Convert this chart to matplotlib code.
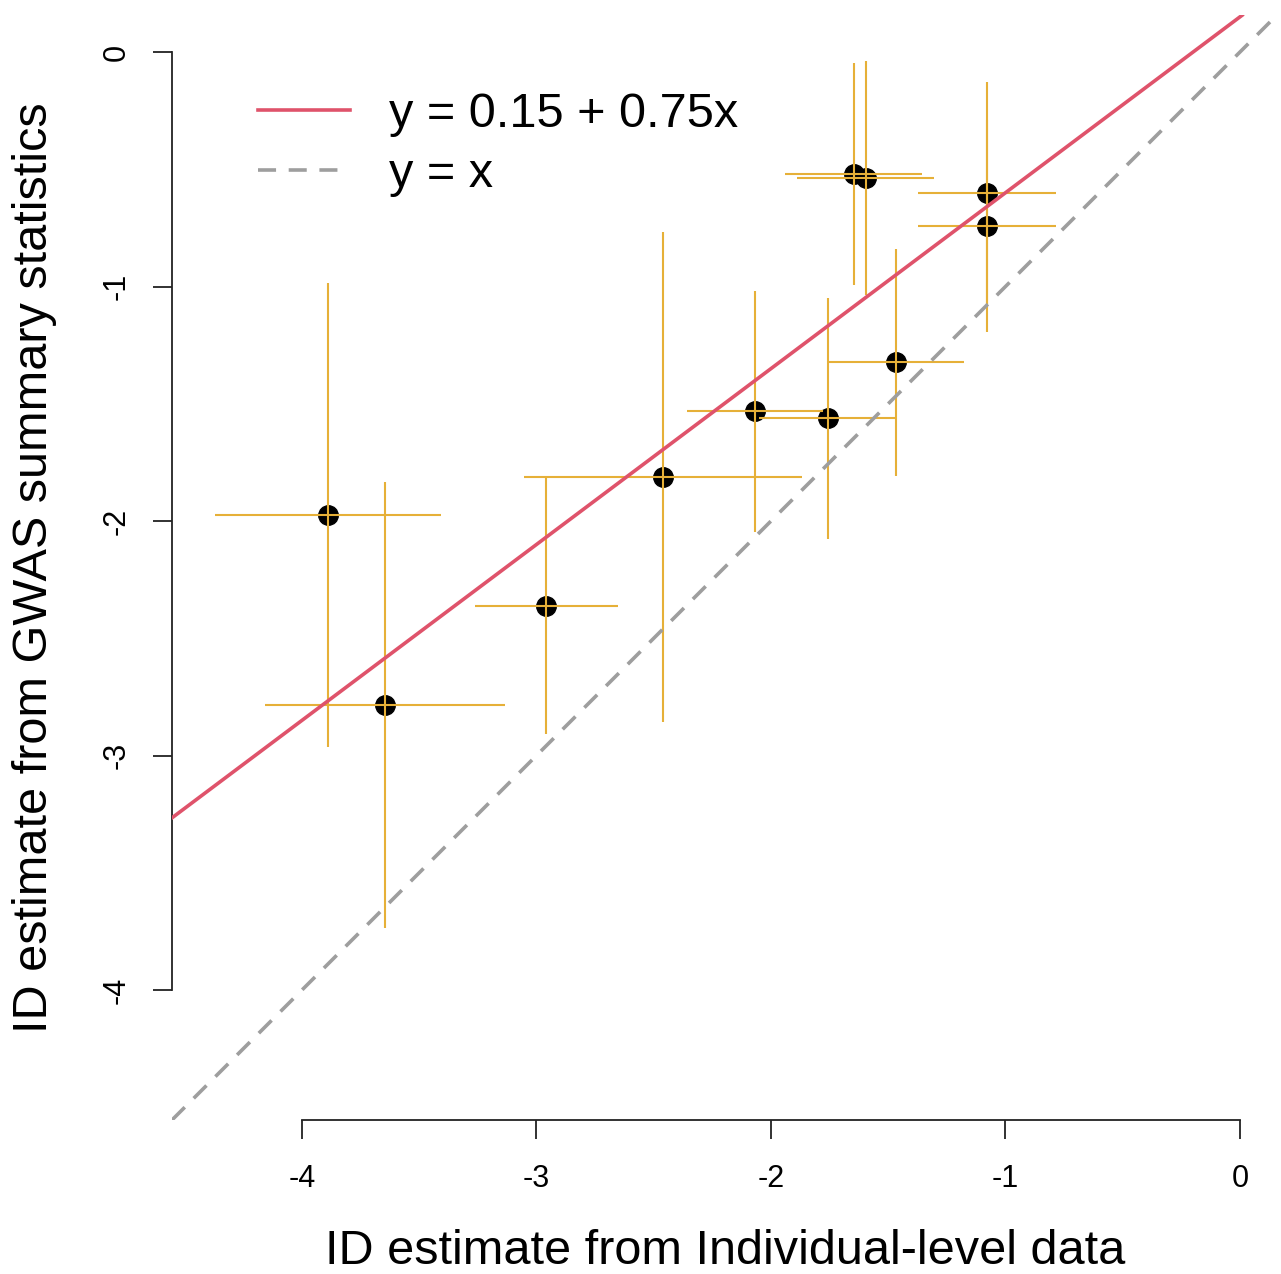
import numpy as np
import matplotlib.pyplot as plt

# ID estimates: individual-level (x) vs GWAS summary statistics (y), with half-widths of the bars
id_indiv = [-3.889, -3.646, -2.959, -2.461, -2.068, -1.757, -1.467, -1.646, -1.595, -1.079, -1.079]
id_gwas = [-1.974, -2.785, -2.362, -1.812, -1.531, -1.561, -1.322, -0.520, -0.537, -0.601, -0.742]
err_indiv = [0.482, 0.512, 0.305, 0.593, 0.290, 0.294, 0.290, 0.292, 0.292, 0.294, 0.294]
err_gwas = [0.991, 0.951, 0.548, 1.043, 0.514, 0.514, 0.484, 0.473, 0.501, 0.473, 0.452]

fit_a, fit_b = 0.15, 0.75
ticks = [-4, -3, -2, -1, 0]

plt.rcParams['font.family'] = ['Liberation Sans', 'DejaVu Sans']
plt.rcParams['axes.unicode_minus'] = False

W, H = 1281, 1274
fig = plt.figure(figsize=(W / 100, H / 100), dpi=100)
lo, hi = -4.554, 0.157
scale = 234.5  # pixels per unit
ax = fig.add_axes([172 / W, 1 - 1120 / H, (hi - lo) * scale / W, (hi - lo) * scale / H])
ax.set_xlim(lo, hi)
ax.set_ylim(lo, hi)

ax.plot(id_indiv, id_gwas, 'o', color='black', markersize=14, zorder=2)
ax.errorbar(id_indiv, id_gwas, xerr=err_indiv, yerr=err_gwas, fmt='none',
            ecolor='#E6B038', elinewidth=1.5, capsize=0, zorder=3)

ax.axline((0, fit_a), slope=fit_b, color='#DF536B', lw=2.6, zorder=4,
          label='y = %.2f + %.2fx' % (fit_a, fit_b))
ax.axline((0, 0), slope=1, color='#9E9E9E', lw=2.6, dashes=(5, 3.5), zorder=4,
          label='y = x')

for s in ['top', 'right']:
    ax.spines[s].set_visible(False)
ax.spines['left'].set_bounds(-4, 0)
ax.spines['bottom'].set_bounds(-4, 0)
for s in ['left', 'bottom']:
    ax.spines[s].set_linewidth(1.3)
    ax.spines[s].set_color('#222222')
ax.set_xticks(ticks)
ax.set_yticks(ticks)
ax.set_xticklabels([str(t) for t in ticks])
ax.set_yticklabels([str(t) for t in ticks], rotation=90, va='center')
ax.tick_params(direction='out', length=14, width=1.3, color='#222222', labelsize=22)
ax.tick_params(axis='x', pad=18)
ax.tick_params(axis='y', pad=15)

fig.text(725 / W, 1 - 1252 / H, 'ID estimate from Individual-level data',
         fontsize=35, ha='center', va='center')
fig.text(35 / W, 1 - 568 / H, 'ID estimate from GWAS summary statistics',
         fontsize=35, ha='center', va='center', rotation=90)

ax.legend(loc='upper left', bbox_to_anchor=(258 / W, 1 - 92 / H),
          bbox_transform=fig.transFigure, frameon=False, fontsize=35,
          handlelength=1.9, handletextpad=0.8, borderpad=0, borderaxespad=0,
          labelspacing=0.3)

fig.savefig('out.png', dpi=100)
